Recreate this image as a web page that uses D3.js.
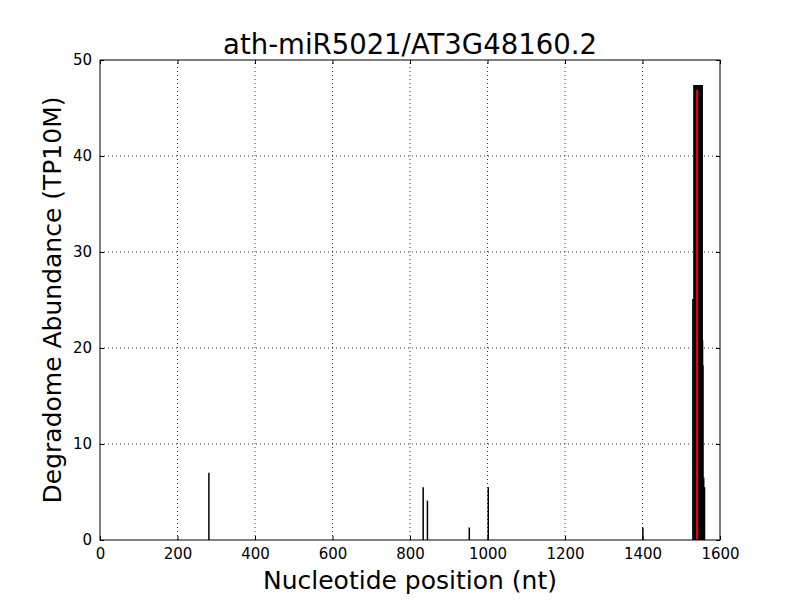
<!DOCTYPE html>
<html>
<head>
<meta charset="utf-8">
<script src="https://cdn.jsdelivr.net/npm/d3@7"></script>
<style>
  body { margin: 0; background: #fff; }
  text { font-family: "DejaVu Sans", sans-serif; }
</style>
</head>
<body>
<script>
const width = 800, height = 600;
const margin = {top: 60, right: 80, bottom: 60, left: 100};

// degradome reads: position (nt) and abundance (TP10M)
const positions = [281, 834, 845, 953, 1002, 1401,
  1530, 1533, 1534, 1535, 1536, 1537, 1538, 1539, 1540, 1541, 1542, 1543,
  1544, 1545, 1546, 1547, 1548, 1549, 1550, 1551, 1552, 1553, 1554,
  1555, 1556, 1558, 1560];
const abundance = [7.0, 5.5, 4.1, 1.3, 5.5, 1.3,
  25.1, 47.4, 47.4, 47.4, 47.4, 47.4, 47.4, 47.4, 47.4, 47.4, 47.4, 47.4,
  47.4, 47.4, 47.4, 47.4, 47.4, 47.4, 47.4, 47.4, 47.4, 47.4, 47.4,
  20.8, 18.2, 6.5, 5.5];
// predicted cleavage site
const cleavePos = [1541];
const cleaveVal = [46.9];

const xTicks = [0, 200, 400, 600, 800, 1000, 1200, 1400, 1600];
const yTicks = [0, 10, 20, 30, 40, 50];

const svg = d3.select("body").append("svg")
  .attr("width", width)
  .attr("height", height);

const x = d3.scaleLinear().domain([0, 1600]).range([margin.left, width - margin.right]);
const y = d3.scaleLinear().domain([0, 50]).range([height - margin.bottom, margin.top]);

// grid
svg.append("g")
  .selectAll("line")
  .data(xTicks.slice(1, -1))
  .join("line")
    .attr("x1", d => x(d)).attr("x2", d => x(d))
    .attr("y1", y(0)).attr("y2", y(50))
    .attr("stroke", "black").attr("stroke-width", 0.8)
    .attr("stroke-dasharray", "1,3");
svg.append("g")
  .selectAll("line")
  .data(yTicks.slice(1, -1))
  .join("line")
    .attr("x1", x(0)).attr("x2", x(1600))
    .attr("y1", d => y(d)).attr("y2", d => y(d))
    .attr("stroke", "black").attr("stroke-width", 0.8)
    .attr("stroke-dasharray", "1,3");

// bars
svg.append("g")
  .selectAll("line")
  .data(positions)
  .join("line")
    .attr("x1", d => x(d)).attr("x2", d => x(d))
    .attr("y1", y(0))
    .attr("y2", (d, i) => y(abundance[i]))
    .attr("stroke", "black")
    .attr("stroke-width", 1.5);

svg.append("g")
  .selectAll("line")
  .data(cleavePos)
  .join("line")
    .attr("x1", d => x(d)).attr("x2", d => x(d))
    .attr("y1", y(0))
    .attr("y2", (d, i) => y(cleaveVal[i]))
    .attr("stroke", "red")
    .attr("stroke-width", 2);

// axes (ticks inward, on all sides)
const tl = 4;
svg.append("g")
  .attr("transform", `translate(0,${y(0)})`)
  .call(d3.axisBottom(x).tickValues(xTicks).tickSize(-tl).tickPadding(8).tickFormat(d3.format("d")))
  .call(g => g.select(".domain").remove());
svg.append("g")
  .attr("transform", `translate(0,${y(50)})`)
  .call(d3.axisTop(x).tickValues(xTicks).tickSize(-tl).tickFormat(""))
  .call(g => g.select(".domain").remove());
svg.append("g")
  .attr("transform", `translate(${x(0)},0)`)
  .call(d3.axisLeft(y).tickValues(yTicks).tickSize(-tl).tickPadding(8))
  .call(g => g.select(".domain").remove());
svg.append("g")
  .attr("transform", `translate(${x(1600)},0)`)
  .call(d3.axisRight(y).tickValues(yTicks).tickSize(-tl).tickFormat(""))
  .call(g => g.select(".domain").remove());

svg.selectAll(".tick text")
  .attr("font-family", "DejaVu Sans")
  .attr("font-size", 15)
  .attr("fill", "black");
svg.selectAll(".tick line").attr("stroke", "black");

svg.append("rect")
  .attr("x", x(0)).attr("y", y(50))
  .attr("width", x(1600) - x(0)).attr("height", y(0) - y(50))
  .attr("fill", "none").attr("stroke", "black").attr("stroke-width", 1);

// labels
svg.append("text")
  .attr("x", (x(0) + x(1600)) / 2).attr("y", 54)
  .attr("text-anchor", "middle")
  .attr("font-size", 27.5)
  .text("ath-miR5021/AT3G48160.2");

svg.append("text")
  .attr("x", (x(0) + x(1600)) / 2).attr("y", 589)
  .attr("text-anchor", "middle")
  .attr("font-size", 25)
  .text("Nucleotide position (nt)");

svg.append("text")
  .attr("transform", `translate(61,${(y(0) + y(50)) / 2}) rotate(-90)`)
  .attr("text-anchor", "middle")
  .attr("font-size", 25)
  .text("Degradome Abundance (TP10M)");
</script>
</body>
</html>
